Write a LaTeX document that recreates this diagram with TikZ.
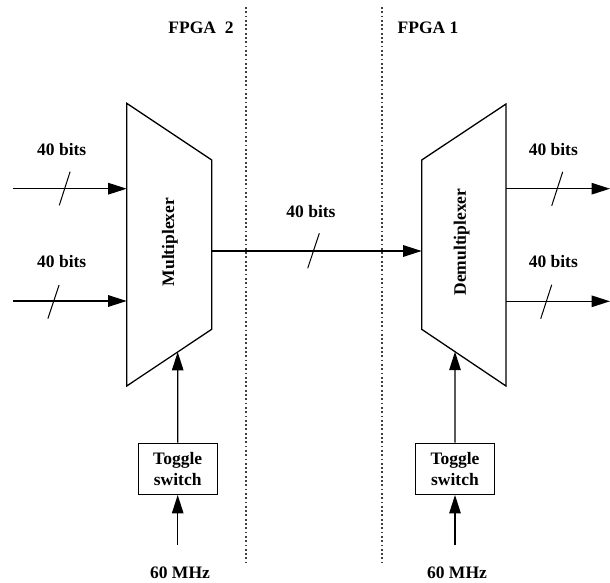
\documentclass[tikz,border=0pt]{standalone}
\usepackage{fontspec}
\setmainfont{Liberation Serif}
\usetikzlibrary{arrows.meta,calc}
\begin{document}
\begin{tikzpicture}[x=1pt,y=-1pt,
  wire/.style={line width=1.3pt},
  sig/.style={wire,-{Triangle[length=18.5pt,width=11.5pt]}},
  busmark/.style={line width=1pt},
  divider/.style={line width=1.6pt,dash pattern=on 1.8pt off 2.5pt,black!75},
  lbl/.style={font=\fontsize{17.5}{21}\selectfont\bfseries,inner sep=0pt},
  toggle/.style={draw,line width=1.3pt,minimum width=79pt,minimum height=51pt,
    inner sep=0pt,align=center,font=\fontsize{17.5}{21}\selectfont\bfseries}]
\useasboundingbox (0,0) rectangle (610,583);

% FPGA boundaries
\coordinate (v1t) at (245.7,7);  \coordinate (v1b) at (245.7,562);
\coordinate (v2t) at (382.2,7);  \coordinate (v2b) at (382.2,562);
\draw[divider] (v1t) -- (v1b);
\draw[divider] (v2t) -- (v2b);
\node[lbl] (fpga2) at (201,28) {FPGA\ \ 2};
\node[lbl] (fpga1) at (428,28) {FPGA 1};

% multiplexer
\coordinate (m1) at (126.7,103.3);
\coordinate (m2) at (211.7,160);
\coordinate (m3) at (211.7,329.3);
\coordinate (m4) at (126.7,386);
\draw[wire,line join=miter] (m1) -- (m2) -- (m3) -- (m4) -- cycle;
\node[lbl,rotate=90] (mux) at (170,242) {Multiplexer};

% demultiplexer
\coordinate (d1) at (421.7,160);
\coordinate (d2) at (506,104);
\coordinate (d3) at (506,386);
\coordinate (d4) at (421.7,329.3);
\draw[wire,line join=miter] (d1) -- (d2) -- (d3) -- (d4) -- cycle;
\node[lbl,rotate=90] (demux) at (461.7,242) {Demultiplexer};

% inputs of the multiplexer
\coordinate (in1) at (13.3,188.7);  \coordinate (mi1) at (126.7,188.7);
\coordinate (in2) at (13.3,301);    \coordinate (mi2) at (126.7,301);
\draw[sig] (in1) -- (mi1);
\draw[sig] (in2) -- (mi2);
\coordinate (s1) at (64.7,188.5);
\coordinate (s2) at (53.5,301.8);
\draw[busmark] ($(s1)+(5.4,-16.8)$) -- ($(s1)+(-5.4,16.8)$);
\draw[busmark] ($(s2)+(5.6,-16.8)$) -- ($(s2)+(-5.6,16.8)$);
\node[lbl] (b1) at (61.7,150) {40 bits};
\node[lbl] (b2) at (61.7,262) {40 bits};

% link between the FPGAs
\coordinate (mo) at (211.7,251);
\coordinate (di) at (421.7,251);
\draw[sig] (mo) -- (di);
\coordinate (s3) at (313.5,250.8);
\draw[busmark] ($(s3)+(5.8,-17.5)$) -- ($(s3)+(-5.8,17.5)$);
\node[lbl] (b3) at (311,212) {40 bits};

% outputs of the demultiplexer
\coordinate (do1) at (506,188.7);  \coordinate (out1) at (610,188.7);
\coordinate (do2) at (506,301.3);  \coordinate (out2) at (610,301.3);
\draw[sig] (do1) -- (out1);
\draw[sig] (do2) -- (out2);
\coordinate (s4) at (557.2,188.8);
\coordinate (s5) at (546.2,301.8);
\draw[busmark] ($(s4)+(5.5,-17)$) -- ($(s4)+(-5.5,17)$);
\draw[busmark] ($(s5)+(5.5,-17)$) -- ($(s5)+(-5.5,17)$);
\node[lbl] (b4) at (553.3,150) {40 bits};
\node[lbl] (b5) at (553.3,262) {40 bits};

% select inputs driven by the toggle switches
\node[toggle] (t1) at (177.7,468.8) {Toggle\\switch};
\node[toggle] (t2) at (455,468.8) {Toggle\\switch};
\coordinate (ms) at ($(m4)!0.6!(m3)$);
\coordinate (ds) at ($(d4)!0.395!(d3)$);
\draw[sig] (t1.north) -- (ms);
\draw[sig] (t2.north) -- (ds);
\coordinate (c1) at (177.7,545);
\coordinate (c2) at (455,545);
\draw[sig] (c1) -- (t1.south);
\draw[sig] (c2) -- (t2.south);
\node[lbl] (f1) at (180,573) {60 MHz};
\node[lbl] (f2) at (457,573) {60 MHz};
\end{tikzpicture}
\end{document}
